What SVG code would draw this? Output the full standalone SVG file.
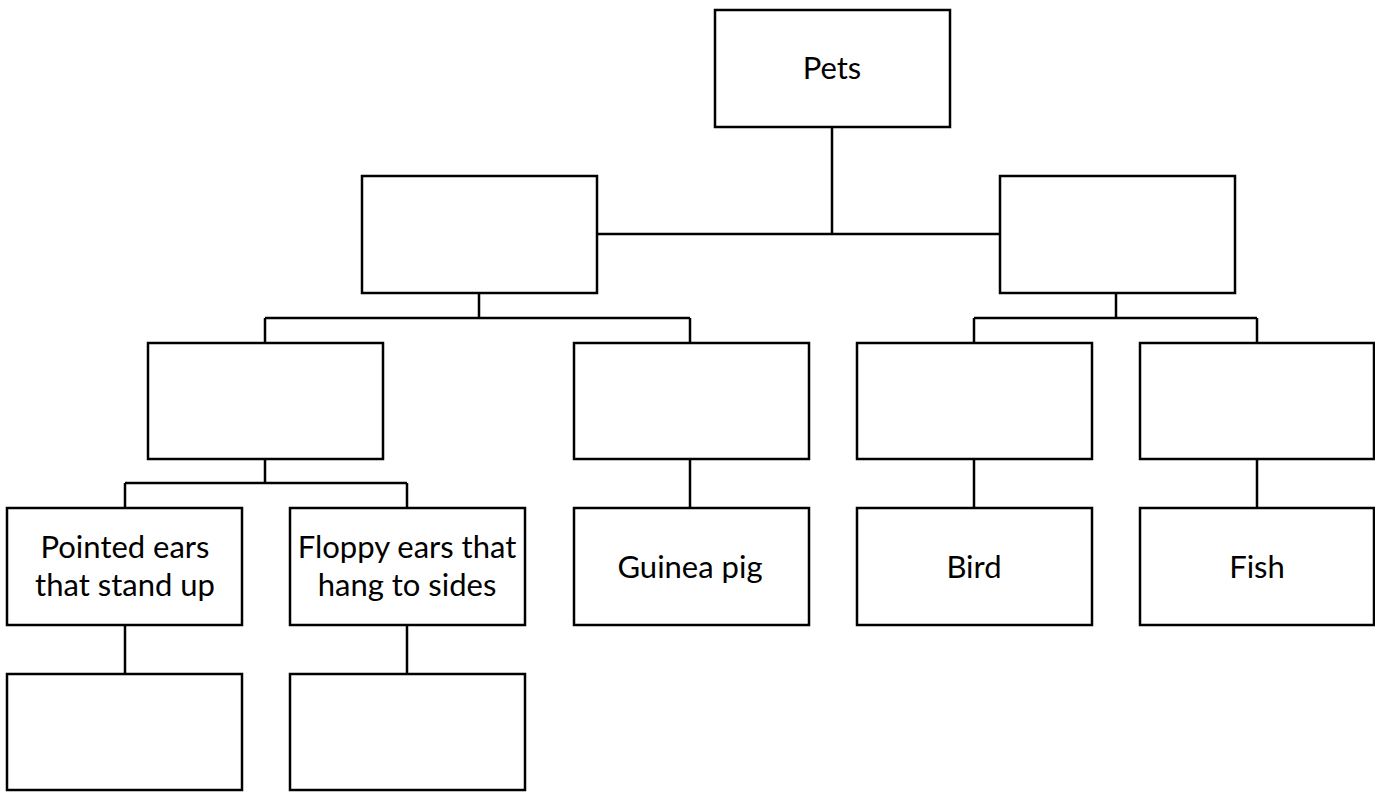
<svg xmlns="http://www.w3.org/2000/svg" width="1375" height="792" viewBox="0 0 1375 792">
<style>
rect{fill:#fff;stroke:#000;stroke-width:2.5}
.c path{fill:none;stroke:#000;stroke-width:2.5}
text{font-family:Lato,"Open Sans",sans-serif;font-size:31px;fill:#000;text-anchor:middle}
</style>
<rect x="0" y="0" width="1375" height="792" style="stroke:none"/>
<g class="c">
<path d="M832 127V234M597 234H1000"/>
<path d="M479 293V318M265 318H690M265 318V343M690 318V343"/>
<path d="M1116 293V318M974 318H1257M974 318V343M1257 318V343"/>
<path d="M265 459V483M125 483H407M125 483V508M407 483V508"/>
<path d="M690 459V508M974 459V508M1257 459V508"/>
<path d="M125 625V674M407 625V674"/>
</g>
<g id="n-pets"><rect x="715" y="10" width="235" height="117"/><text x="832" y="79">Pets</text></g>
<g id="n-l"><rect x="362" y="176" width="235" height="117"/></g>
<g id="n-r"><rect x="1000" y="176" width="235" height="117"/></g>
<g id="n-a"><rect x="148" y="343" width="235" height="116"/></g>
<g id="n-b"><rect x="574" y="343" width="235" height="116"/></g>
<g id="n-c"><rect x="857" y="343" width="235" height="116"/></g>
<g id="n-d"><rect x="1140" y="343" width="234" height="116"/></g>
<g id="n-pointed"><rect x="7" y="508" width="235" height="117"/><text x="125" y="558">Pointed ears</text><text x="125" y="596">that stand up</text></g>
<g id="n-floppy"><rect x="290" y="508" width="235" height="117"/><text x="407" y="558">Floppy ears that</text><text x="407" y="596">hang to sides</text></g>
<g id="n-guinea"><rect x="574" y="508" width="235" height="117"/><text x="690" y="578">Guinea pig</text></g>
<g id="n-bird"><rect x="857" y="508" width="235" height="117"/><text x="974" y="578">Bird</text></g>
<g id="n-fish"><rect x="1140" y="508" width="234" height="117"/><text x="1257" y="578">Fish</text></g>
<g id="n-e"><rect x="7" y="674" width="235" height="116"/></g>
<g id="n-f"><rect x="290" y="674" width="235" height="116"/></g>
</svg>
